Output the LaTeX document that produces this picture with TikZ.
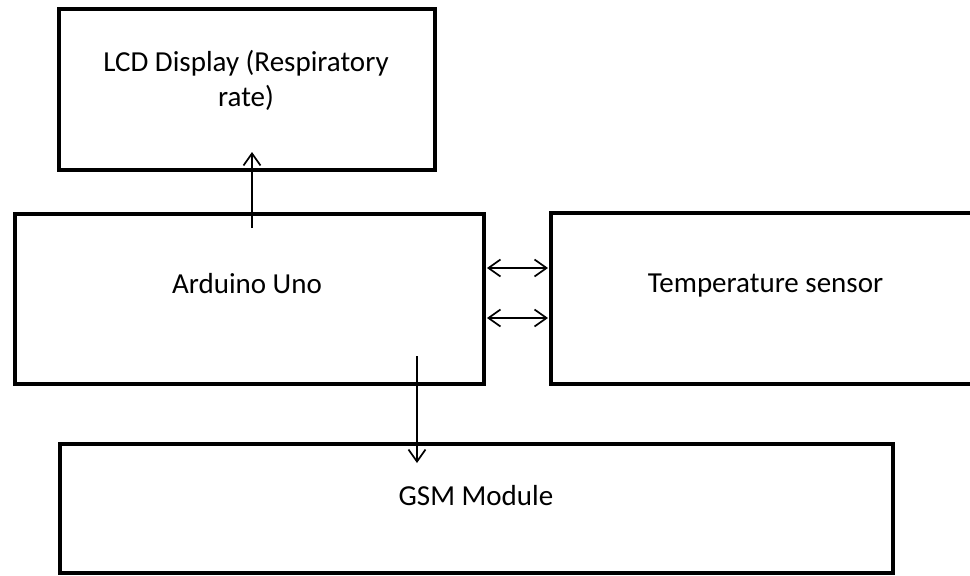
\documentclass[tikz,border=0pt]{standalone}
\usepackage{fontspec}
\setmainfont{Carlito}
\usetikzlibrary{arrows.meta}
\begin{document}
\begin{tikzpicture}[x=1pt,y=-1pt,
  box/.style={draw=black,line width=4.5pt,rectangle,inner sep=0pt,outer sep=0pt},
  lbl/.style={anchor=base,inner sep=0pt,font=\fontsize{29}{35}\selectfont},
  tip/.style={Straight Barb[length=12pt,width=17pt,line width=1.7pt]},
  conn/.style={line width=1.7pt,-{Straight Barb[length=12pt,width=17pt,line width=1.7pt]}},
  biconn/.style={line width=1.7pt,{Straight Barb[length=12pt,width=17pt,line width=1.7pt]}-{Straight Barb[length=12pt,width=17pt,line width=1.7pt]}}]
\useasboundingbox (0,0) rectangle (970,576);
\clip (0,0) rectangle (970,576);
% boxes
\node[box,minimum width=376pt,minimum height=161pt] (lcd) at (247,89.5) {};
\node[box,minimum width=469pt,minimum height=170pt] (ard) at (249.5,299) {};
\node[box,minimum width=425pt,minimum height=171pt] (tmp) at (763.5,298.5) {};
\node[box,minimum width=833pt,minimum height=129pt] (gsm) at (476.5,508.5) {};
% texts
\node[lbl] (lcdt1) at (246,71) {LCD Display (Respiratory};
\node[lbl] (lcdt2) at (246,106) {rate)};
\node[lbl] (ardt) at (247,293) {Arduino Uno};
\node[lbl] (tmpt) at (765.5,292) {Temperature sensor};
\node[lbl] (gsmt) at (476,505) {GSM Module};
% connector end points
\coordinate (a1) at (252,228);
\coordinate (a2) at (252,152);
\coordinate (b1) at (417,356);
\coordinate (b2) at (417,463);
\coordinate (c1) at (487,268);
\coordinate (c2) at (548,268);
\coordinate (d1) at (487,318);
\coordinate (d2) at (548,318);
% connectors
\draw[conn] (a1) -- (a2);
\draw[conn] (b1) -- (b2);
\draw[biconn] (c1) -- (c2);
\draw[biconn] (d1) -- (d2);
\end{tikzpicture}
\end{document}
